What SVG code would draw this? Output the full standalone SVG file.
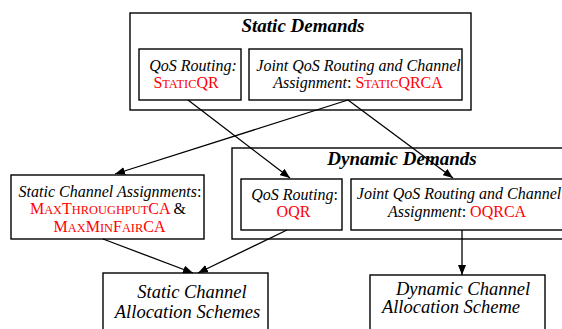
<svg xmlns="http://www.w3.org/2000/svg" width="562" height="329" viewBox="0 0 562 329">
<defs>
<marker id="arr" markerUnits="userSpaceOnUse" markerWidth="11" markerHeight="8" refX="10" refY="4" orient="auto">
<path d="M0,0 L10,4 L0,8 z" fill="#000"/>
</marker>
<style>
.box{fill:#fff;stroke:#000;stroke-width:1.4}
text{font-family:"Liberation Serif","Times New Roman",serif}
.t{font-style:italic;font-size:16px;fill:#000;text-anchor:middle}
.h{font-style:italic;font-weight:bold;font-size:19px;fill:#000;text-anchor:middle}
.b{font-style:italic;font-size:18.5px;fill:#000;text-anchor:middle}
.r{fill:#ff0000;font-style:normal}
.s{font-size:12.4px}
.n{font-style:normal}
.c{fill:none;stroke:#000;stroke-width:1.3;marker-end:url(#arr)}
</style>
</defs>
<rect width="562" height="329" fill="#fff"/>

<g id="static-demands">
<rect class="box" x="130" y="13" width="341" height="97"/>
<text class="h" x="303" y="32">Static Demands</text>
</g>
<g id="static-qr">
<rect class="box" x="139" y="49" width="102" height="51"/>
<text class="t" x="193" y="71">QoS Routing:</text>
<text class="t" x="186" y="88"><tspan class="r">S<tspan class="s">TATIC</tspan>QR</tspan></text>
</g>
<g id="static-qrca">
<rect class="box" x="249" y="49" width="213" height="51"/>
<text class="t" x="358.5" y="71">Joint QoS Routing and Channel</text>
<text class="t" x="358" y="88">Assignment<tspan class="n">: </tspan><tspan class="r">S<tspan class="s">TATIC</tspan>QRCA</tspan></text>
</g>

<g id="dynamic-demands">
<rect class="box" x="232" y="148" width="340" height="91"/>
<text class="h" x="402" y="165">Dynamic Demands</text>
</g>
<g id="oqr">
<rect class="box" x="241" y="179" width="101" height="51"/>
<text class="t" x="294.5" y="200">QoS Routing<tspan class="n">:</tspan></text>
<text class="t" x="293.5" y="217"><tspan class="r">OQR</tspan></text>
</g>
<g id="oqrca">
<rect class="box" x="351" y="179" width="221" height="51"/>
<text class="t" x="459" y="199">Joint QoS Routing and Channel</text>
<text class="t" x="457" y="217">Assignment<tspan class="n">: </tspan><tspan class="r">OQRCA</tspan></text>
</g>

<g id="static-ca">
<rect class="box" x="11" y="175" width="193" height="64"/>
<text class="t" x="110" y="197">Static Channel Assignments<tspan class="n">:</tspan></text>
<text class="t" x="108" y="214"><tspan class="r">M<tspan class="s">AX</tspan>T<tspan class="s">HROUGHPUT</tspan>CA</tspan><tspan class="n"> &amp;</tspan></text>
<text class="t" x="109.5" y="232"><tspan class="r">M<tspan class="s">AX</tspan>M<tspan class="s">IN</tspan>F<tspan class="s">AIR</tspan>CA</tspan></text>
</g>

<g id="static-alloc">
<rect class="box" x="103" y="273" width="165" height="70"/>
<text class="b" x="192" y="298">Static Channel</text>
<text class="b" x="187.5" y="318">Allocation Schemes</text>
</g>
<g id="dynamic-alloc">
<rect class="box" x="370" y="275" width="175" height="70"/>
<text class="b" x="463" y="295">Dynamic Channel</text>
<text class="b" x="451" y="313">Allocation Scheme</text>
</g>

<g id="connectors">
<line class="c" x1="188" y1="100" x2="290" y2="178"/>
<line class="c" x1="348" y1="100" x2="115" y2="174"/>
<line class="c" x1="348" y1="100" x2="453" y2="178"/>
<line class="c" x1="103" y1="239" x2="193" y2="273"/>
<line class="c" x1="287" y1="230" x2="198" y2="273"/>
<line class="c" x1="462" y1="230" x2="462" y2="275"/>
</g>
</svg>
